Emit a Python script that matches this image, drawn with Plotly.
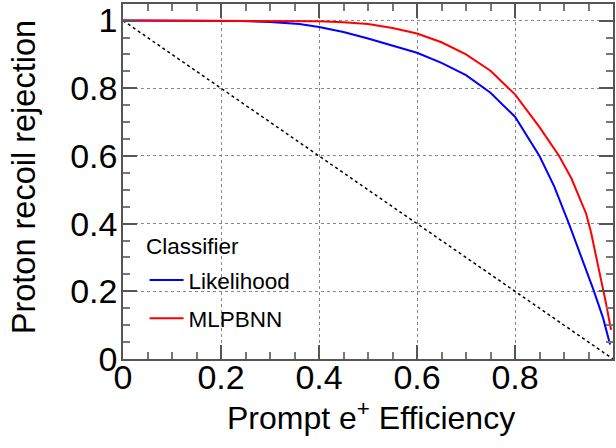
import plotly.graph_objects as go

eff_likelihood = [0, 0.1, 0.2, 0.24, 0.3, 0.36, 0.4, 0.45, 0.5, 0.55, 0.6, 0.65, 0.7, 0.75, 0.8, 0.85, 0.88, 0.91, 0.94, 0.96, 0.98, 0.994]
rej_likelihood = [1, 1, 1, 0.999, 0.996, 0.99, 0.981, 0.966, 0.947, 0.927, 0.905, 0.875, 0.839, 0.787, 0.716, 0.60, 0.51, 0.40, 0.285, 0.205, 0.12, 0.043]

eff_mlpbnn = [0, 0.2, 0.36, 0.4, 0.45, 0.5, 0.55, 0.6, 0.65, 0.7, 0.75, 0.8, 0.85, 0.89, 0.915, 0.945, 0.955, 0.965, 0.975, 0.985, 0.996]
rej_mlpbnn = [1, 1, 1, 0.998, 0.995, 0.99, 0.978, 0.962, 0.936, 0.90, 0.852, 0.782, 0.685, 0.60, 0.534, 0.43, 0.375, 0.31, 0.245, 0.17, 0.086]

diag_x = [0, 1]
diag_y = [1, 0]

tick_vals = [0, 0.2, 0.4, 0.6, 0.8, 1]
tick_text = ["0", "0.2", "0.4", "0.6", "0.8", "1"]

FONT = "Liberation Sans, Arial, Helvetica, sans-serif"
TICKFONT = "Liberation Sans Narrow, Arial Narrow, Liberation Sans, sans-serif"

fig = go.Figure()
fig.add_trace(go.Scatter(x=diag_x, y=diag_y, mode="lines", showlegend=False,
                         line=dict(color="black", width=1.5, dash="dot")))
fig.add_trace(go.Scatter(x=eff_likelihood, y=rej_likelihood, mode="lines", name="Likelihood",
                         legendgroup="a", line=dict(color="#0000ff", width=2)))
fig.add_trace(go.Scatter(x=eff_mlpbnn, y=rej_mlpbnn, mode="lines", name="MLPBNN",
                         legendgroup="b", line=dict(color="#ff0000", width=2)))

axis_common = dict(
    showline=True, linecolor="#555555", linewidth=1.5, mirror="allticks",
    ticks="inside", ticklen=14, tickwidth=1.5, tickcolor="#555555",
    showgrid=True, gridcolor="#888888", griddash="dot", gridwidth=1,
    zeroline=False, automargin=False,
    tickvals=tick_vals, ticktext=tick_text,
    tickfont=dict(family=TICKFONT, size=34, color="black"),
    minor=dict(ticks="inside", ticklen=7, tickwidth=1.5, tickcolor="#777777", dtick=0.05, showgrid=False),
)

fig.update_xaxes(range=[0, 1.0], ticklabelstandoff=-13, **axis_common)
fig.update_yaxes(range=[0, 1.049], ticklabelstandoff=-3, **axis_common)

fig.add_annotation(text="Prompt e<sup>+</sup> Efficiency", xref="paper", yref="paper",
                   x=0.507, y=-0.1606, xanchor="center", yanchor="middle", showarrow=False,
                   font=dict(family=FONT, size=32, color="black"))
fig.add_annotation(text="Proton recoil rejection", xref="paper", yref="paper", textangle=-90,
                   x=-0.202, y=0.512, xanchor="center", yanchor="middle", showarrow=False,
                   font=dict(family=FONT, size=32.5, color="black"))
fig.add_annotation(text="Classifier", xref="paper", yref="paper",
                   x=0.043, y=0.3155, xanchor="left", yanchor="middle", showarrow=False,
                   font=dict(family=FONT, size=22.5, color="black"))

fig.update_layout(
    width=616, height=448,
    margin=dict(l=123, r=3, t=4, b=89),
    paper_bgcolor="white", plot_bgcolor="white",
    showlegend=True,
    legend=dict(
        x=0.044, y=0.282, xanchor="left", yanchor="top",
        bgcolor="rgba(255,255,255,0)", borderwidth=0,
        font=dict(family=FONT, size=22.5, color="black"),
        tracegroupgap=6, itemwidth=34,
    ),
)

fig.write_html("out.html", config={"displayModeBar": False},
               post_script="document.body.style.margin='0';")
